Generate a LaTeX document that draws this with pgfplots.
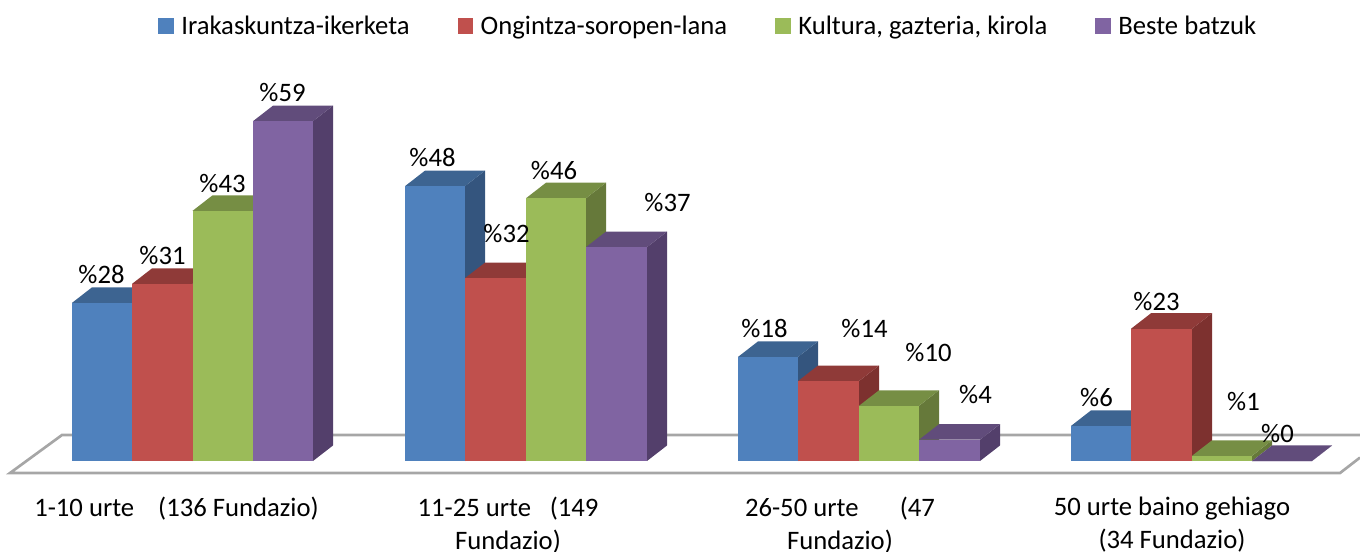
\documentclass[border=0pt]{standalone}
\usepackage{fontspec}
\setmainfont{Carlito}
\usepackage{pgfplots}
\pgfplotsset{compat=1.18}
\definecolor{bluef}{HTML}{4F81BD}\definecolor{bluet}{HTML}{3D6491}\definecolor{blues}{HTML}{34557E}
\definecolor{redf}{HTML}{C0504D}\definecolor{redt}{HTML}{8F3A38}\definecolor{reds}{HTML}{7D312F}
\definecolor{greenf}{HTML}{9BBB59}\definecolor{greent}{HTML}{768E44}\definecolor{greens}{HTML}{66793A}
\definecolor{purplef}{HTML}{8064A2}\definecolor{purplet}{HTML}{614C7B}\definecolor{purples}{HTML}{533F6B}
\definecolor{floorc}{HTML}{A6A6A6}
% #1 left x, #2 right x, #3 value, #4 colour stem
\newcommand{\tdbar}[4]{%
  \pgfmathsetmacro{\xb}{#2+20}%
  \pgfmathsetmacro{\xc}{#1+20}%
  \pgfmathsetmacro{\yt}{#3+2.7}%
  \addplot[forget plot,draw=none,fill=#4s] coordinates {(#2,0) (\xb,2.7) (\xb,\yt) (#2,#3)} -- cycle;
  \addplot[forget plot,draw=none,fill=#4t] coordinates {(#1,#3) (\xc,\yt) (\xb,\yt) (#2,#3)} -- cycle;
  \addplot[forget plot,draw=none,fill=#4f] coordinates {(#1,0) (#2,0) (#2,#3) (#1,#3)} -- cycle;
}
\newcommand{\lab}[3]{\node[font=\fontsize{20}{24}\selectfont,inner sep=0pt] at (axis cs:#1,#2) {\%#3};}
\begin{document}
\begin{tikzpicture}
\path[use as bounding box,clip] (0,0) rectangle (1020pt,413.25pt);
\begin{axis}[
  scale only axis,width=1020pt,height=413.25pt,
  xmin=0,xmax=1360,ymin=-15.652,ymax=80.174,
  axis line style={draw=none},
  major tick length=0pt,
  ytick=\empty,
  xtick={176.5,508,840,1172},
  xticklabels={{1-10 urte\hspace{0.9em}(136 Fundazio)},{11-25 urte\hspace{0.7em}(149\\Fundazio)},{26-50 urte\hspace{1.55em}(47\\Fundazio)},{50 urte baino gehiago\\(34 Fundazio)}},
  xticklabel style={font=\fontsize{20}{25}\selectfont,align=center,anchor=north,yshift=44.4pt},
  legend columns=4,
  legend style={draw=none,fill=none,anchor=north west,font=\fontsize{20}{24}\selectfont,
    at={(0.1132,0.982)},
    /tikz/column 1/.style={column sep=4pt},
    /tikz/column 3/.style={column sep=4pt},
    /tikz/column 5/.style={column sep=4pt},
    /tikz/column 7/.style={column sep=4pt},
    /tikz/column 2/.style={column sep=34pt},
    /tikz/column 4/.style={column sep=34pt},
    /tikz/column 6/.style={column sep=34pt}},
]
% floor
\addplot[forget plot,floorc,line width=2pt] coordinates {(1360,4.52) (62,4.52) (10,-2.09) (1340,-2.09) (1360,0.6)};
% 1-10 urte
\tdbar{72}{132}{27.5}{blue}
\tdbar{132}{192.5}{30.8}{red}
\tdbar{192.5}{253}{43.5}{green}
\tdbar{253}{313}{59.1}{purple}
% 11-25 urte
\tdbar{405}{465}{47.8}{blue}
\tdbar{465}{526}{31.8}{red}
\tdbar{526}{586}{45.7}{green}
\tdbar{586}{647}{37.2}{purple}
% 26-50 urte
\tdbar{738}{798}{18.1}{blue}
\tdbar{798}{859}{13.9}{red}
\tdbar{859}{919}{9.6}{green}
\tdbar{919}{980}{3.7}{purple}
% 50+
\tdbar{1071}{1131}{6.1}{blue}
\tdbar{1131}{1192}{23}{red}
\tdbar{1192}{1252}{0.9}{green}
\tdbar{1252}{1312}{0}{purple}
% labels (px x, value-space y)
\lab{101.5}{32.35}{28}\lab{162.5}{35.8}{31}\lab{222.5}{48.3}{43}\lab{282.5}{64}{59}
\lab{432.5}{52.7}{48}\lab{506.5}{39.5}{32}\lab{554}{50.6}{46}\lab{667.5}{44.9}{37}
\lab{764.5}{23}{18}\lab{864.5}{23}{14}\lab{928.5}{18.8}{10}\lab{975.5}{11.5}{4}
\lab{1096.5}{11}{6}\lab{1156.5}{27.8}{23}\lab{1243.5}{10.4}{1}\lab{1277.5}{4.7}{0}
\addlegendimage{legend image code/.code={\fill[bluef] (0pt,-5.5pt) rectangle (10.9pt,5.5pt);}}
\addlegendentry{Irakaskuntza-ikerketa}
\addlegendimage{legend image code/.code={\fill[redf] (0pt,-5.5pt) rectangle (10.9pt,5.5pt);}}
\addlegendentry{Ongintza-soropen-lana}
\addlegendimage{legend image code/.code={\fill[greenf] (0pt,-5.5pt) rectangle (10.9pt,5.5pt);}}
\addlegendentry{Kultura, gazteria, kirola}
\addlegendimage{legend image code/.code={\fill[purplef] (0pt,-5.5pt) rectangle (10.9pt,5.5pt);}}
\addlegendentry{Beste batzuk}
\end{axis}
\end{tikzpicture}
\end{document}
